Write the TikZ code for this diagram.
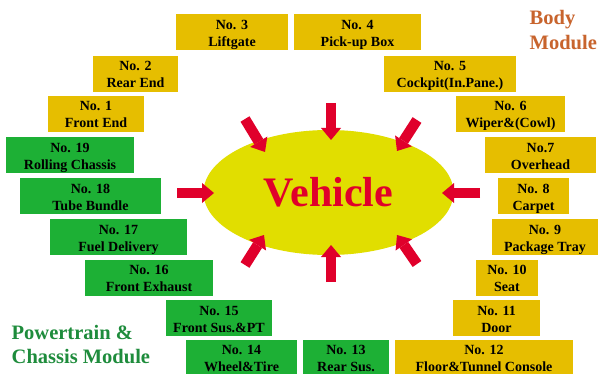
\documentclass[tikz,border=0pt]{standalone}
\usepackage{fontspec}
\setmainfont{Liberation Serif}
\usetikzlibrary{shapes.geometric,arrows.meta}
\definecolor{gold}{RGB}{230,190,0}
\definecolor{grn}{RGB}{29,176,53}
\definecolor{ellc}{RGB}{225,222,0}
\definecolor{redc}{RGB}{224,0,43}
\definecolor{bodyc}{RGB}{200,100,45}
\definecolor{ptc}{RGB}{30,140,60}
\newcommand\bxtop{\rule{0pt}{15pt}}
\newcommand\bxbot{\rule[-4pt]{0pt}{0pt}}
\newcommand\bx[8]{\node[#2, minimum width={#5-#3}, minimum height={#6-#4}] (#1) at ({(#3+#5)/2},{(#4+#6)/2}) {\bxtop #7\\#8\bxbot};}
\begin{document}
\begin{tikzpicture}[x=1pt,y=-1pt,
  box/.style={rectangle, inner sep=0pt, align=center, font=\bfseries\fontsize{14}{17}\selectfont, text=black},
  ybox/.style={box, fill=gold},
  gbox/.style={box, fill=grn},
  bigarrow/.style={draw=redc, line width=10.5pt, -{Triangle[length=12pt,width=20pt,line width=0pt]}},
  modlabel/.style={inner sep=0pt, align=left, anchor=north west}]
\clip (0,0) rectangle (599,374);
\fill[white] (0,0) rectangle (599,374);
% boxes
\bx{b1}{ybox}{48}{96}{144}{132}{No. 1}{Front End}
\bx{b2}{ybox}{93}{56}{178}{92}{No. 2}{Rear End}
\bx{b3}{ybox}{176}{15}{288}{50}{No. 3}{Liftgate}
\bx{b4}{ybox}{294}{15}{421}{50}{No. 4}{Pick-up Box}
\bx{b5}{ybox}{384}{56}{516}{92}{No. 5}{Cockpit(In.Pane.)}
\bx{b6}{ybox}{456}{96}{565}{132}{No. 6}{Wiper\&(Cowl)}
\bx{b7}{ybox}{485}{138}{596}{173}{No.7}{Overhead}
\bx{b8}{ybox}{498}{178}{569}{214}{No. 8}{Carpet}
\bx{b9}{ybox}{492}{219}{598}{255}{No. 9}{Package Tray}
\bx{b10}{ybox}{476}{260}{538}{295}{No. 10}{Seat}
\bx{b11}{ybox}{453}{300}{540}{336}{No. 11}{Door}
\bx{b12}{ybox}{395}{341}{573}{374}{No. 12}{Floor\&Tunnel Console}
\bx{b13}{gbox}{303}{341}{389}{374}{No. 13}{Rear Sus.}
\bx{b14}{gbox}{186}{341}{297}{374}{No. 14}{Wheel\&Tire}
\bx{b15}{gbox}{166}{300}{272}{336}{No. 15}{Front Sus.\&PT}
\bx{b16}{gbox}{85}{260}{213}{295}{No. 16}{Front Exhaust}
\bx{b17}{gbox}{50}{219}{187}{255}{No. 17}{Fuel Delivery}
\bx{b18}{gbox}{20}{178}{161}{214}{No. 18}{Tube Bundle}
\bx{b19}{gbox}{6}{138}{134}{173}{No. 19}{Rolling Chassis}
% central ellipse
\node[ellipse, fill=ellc, inner sep=0pt, minimum width=250pt, minimum height=125pt,
      text=redc, font=\bfseries\fontsize{42}{48}\selectfont] (veh) at (328.5,192.5) {Vehicle};
% arrows
\coordinate (aT0) at (331,103);  \coordinate (aT1) at (331,140);
\coordinate (aB0) at (331,282);  \coordinate (aB1) at (331,245);
\coordinate (aL0) at (177,193);  \coordinate (aL1) at (214,193);
\coordinate (aR0) at (480,193);  \coordinate (aR1) at (442,193);
\coordinate (aUL0) at (245,119); \coordinate (aUL1) at (265,152);
\coordinate (aUR0) at (417,120); \coordinate (aUR1) at (397,151);
\coordinate (aLL0) at (245,265); \coordinate (aLL1) at (264,235);
\coordinate (aLR0) at (417,264); \coordinate (aLR1) at (397,235);
\foreach \a in {T,B,L,R,UL,UR,LL,LR}{\draw[bigarrow] (a\a0) -- (a\a1);}
% module labels
\node[modlabel, text=bodyc, font=\bfseries\fontsize{20.5}{25}\selectfont] (body) at (529.5,8) {\rule{0pt}{16pt}Body\\Module};
\node[modlabel, text=ptc, font=\bfseries\fontsize{20.5}{24.5}\selectfont] (pt) at (11.5,323) {\rule{0pt}{16pt}Powertrain \&\\Chassis Module};
\end{tikzpicture}
\end{document}
